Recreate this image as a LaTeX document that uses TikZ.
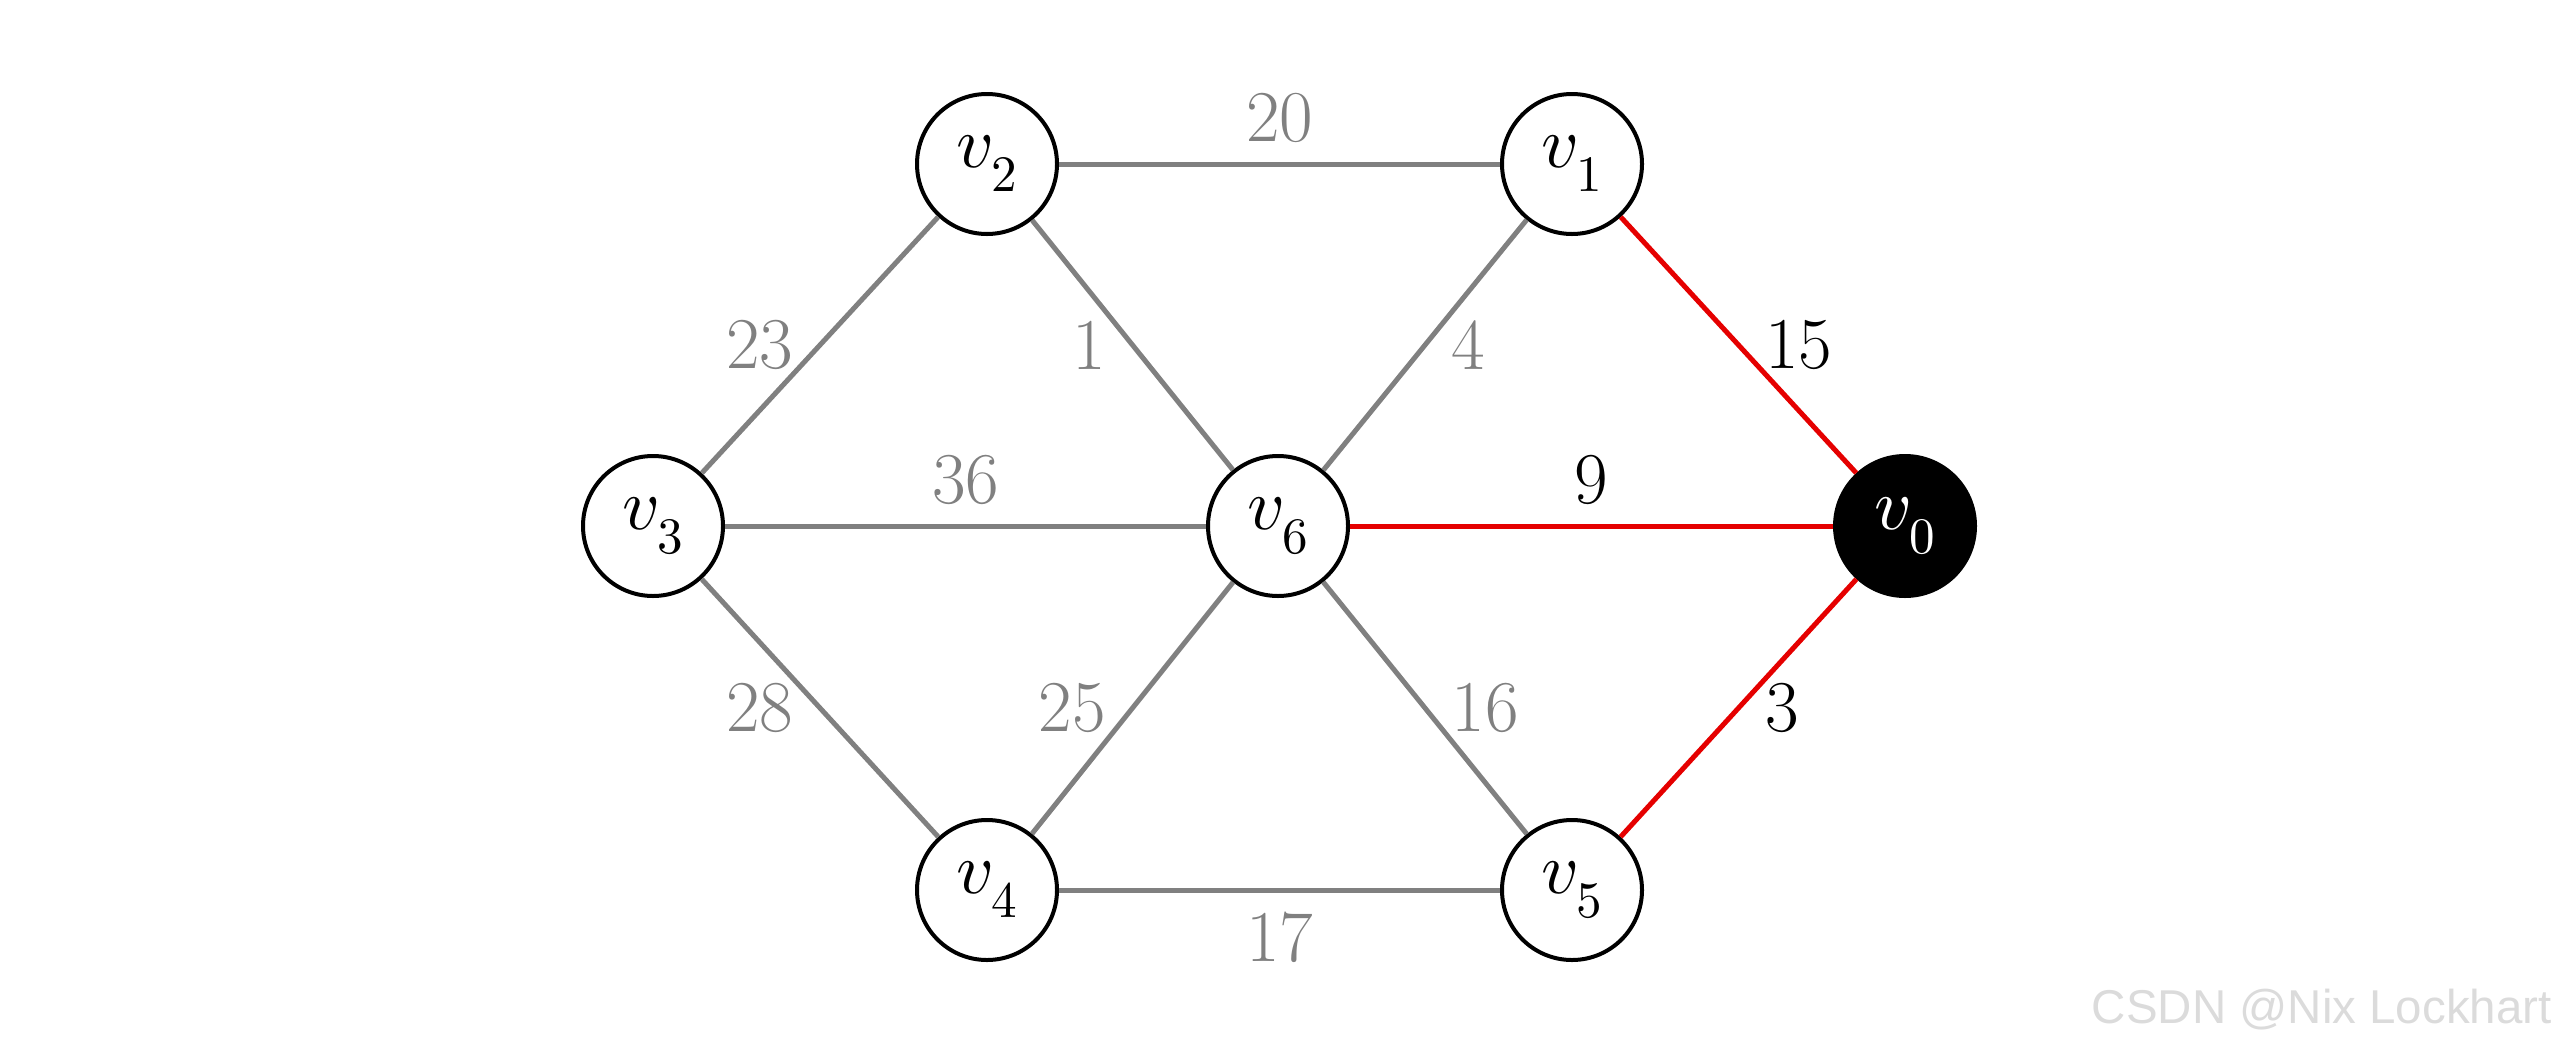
\documentclass[tikz,border=0pt]{standalone}
\usepackage{fontspec}
\DeclareFontShape{OML}{cmm}{m}{it}{<->cmmi10}{}
\DeclareFontShape{OT1}{cmr}{m}{n}{<->cmr10}{}
\newfontfamily\wmfont{Liberation Sans}
\begin{document}
\begin{tikzpicture}[x=1pt,y=-1pt,
  vtx/.style={circle,draw=black,line width=4pt,fill=white,minimum size=140pt,inner sep=0pt,font=\fontsize{73}{80}\selectfont},
  src/.style={vtx,fill=black,text=white},
  gedge/.style={draw=gray,line width=5pt},
  redge/.style={draw=red!90!black,line width=5pt},
  lab/.style={font=\fontsize{73}{80}\selectfont},
  glab/.style={lab,text=gray},
  blab/.style={lab,text=black},
  lft/.style={left,xshift=-21pt},
  rgt/.style={right,xshift=21pt},
  abv/.style={above,yshift=16pt},
  blw/.style={below,yshift=-16pt}]
\useasboundingbox (0,0) rectangle (2560,1053);
\node[vtx] (v2) at (987,164) {$v_2$};
\node[vtx] (v1) at (1572,164) {$v_1$};
\node[vtx] (v3) at (653,526) {$v_3$};
\node[vtx] (v6) at (1278,526) {$v_6$};
\node[src] (v0) at (1905,526) {$v_0$};
\node[vtx] (v4) at (987,890) {$v_4$};
\node[vtx] (v5) at (1572,890) {$v_5$};
\draw[gedge] (v2) -- node[glab,abv] {20} (v1);
\draw[gedge] (v3) -- node[glab,lft] {23} (v2);
\draw[gedge] (v2) -- node[glab,lft] {1} (v6);
\draw[gedge] (v6) -- node[glab,rgt] {4} (v1);
\draw[redge] (v1) -- node[blab,rgt] {15} (v0);
\draw[gedge] (v3) -- node[glab,abv] {36} (v6);
\draw[redge] (v6) -- node[blab,abv] {9} (v0);
\draw[gedge] (v3) -- node[glab,lft] {28} (v4);
\draw[gedge] (v4) -- node[glab,lft] {25} (v6);
\draw[gedge] (v6) -- node[glab,rgt] {16} (v5);
\draw[redge] (v5) -- node[blab,rgt] {3} (v0);
\draw[gedge] (v4) -- node[glab,blw] {17} (v5);
\node[anchor=east,text=black!14,font=\wmfont\fontsize{47.5}{53}\selectfont,inner sep=0pt] (wm) at (2552,1010) {CSDN @Nix Lockhart};
\end{tikzpicture}
\end{document}
